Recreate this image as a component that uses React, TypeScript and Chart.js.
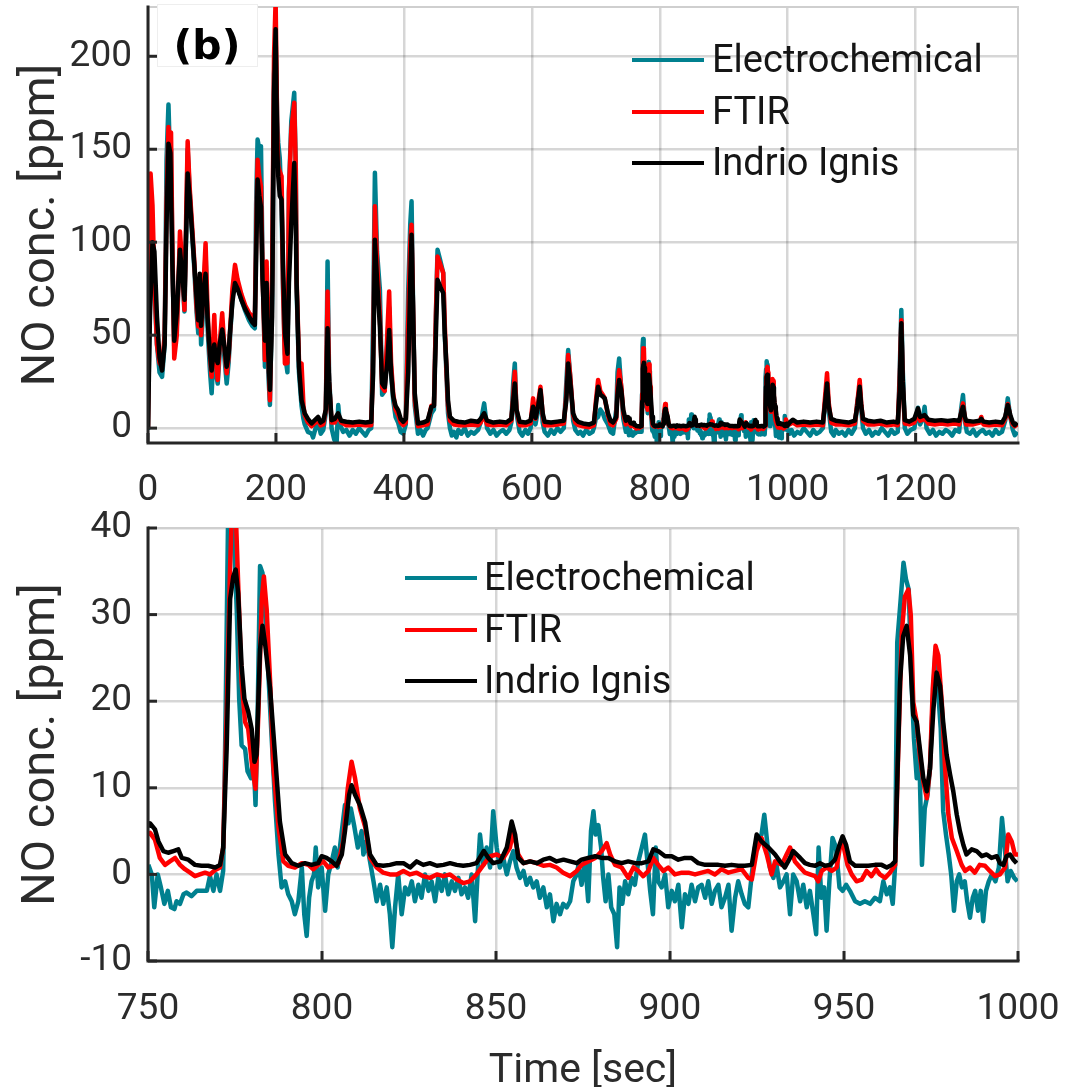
import React, { useEffect, useRef } from "react";
import { Chart, registerables } from "chart.js";

Chart.register(...registerables);

// ---------- labels / ticks ----------
const seriesLabels = ["Electrochemical", "FTIR", "Indrio Ignis"];
const seriesColors = ["#00808f", "#ff0000", "#000000"];
const yTitle = "NO conc. [ppm]";
const xTitle = "Time [sec]";
const panelTag = "(b)";

const fullXTicks = [0, 200, 400, 600, 800, 1000, 1200];
const fullYTicks = [0, 50, 100, 150, 200];
const zoomXTicks = [750, 800, 850, 900, 950, 1000];
const zoomYTicks = [-10, 0, 10, 20, 30, 40];

// ---------- data: [time s, NO ppm] ----------
// 0–750 s (full record only)
const echemEarly: [number, number][] = [[0,-1],[2,50],[4,95],[7,98],[10,75],[14,45],[18,30],[22,27.6],[26,45],[29,144.4],[32,174],[34,150],[36,150],[38,95],[41,43.8],[45,55],[50,96],[54,80],[57,62.7],[60,110],[62,150],[65,128],[68,110],[72,88],[76,62],[78.6,51],[81,75],[83,45],[86,62],[90,95],[93,55],[95,42],[97,30],[99.5,18.7],[103.6,48],[106,30],[109,24],[112,40],[116,50],[119,40],[123,24],[126,35],[128,47],[132,70],[136,80],[140,76],[146,69],[152,63],[158,58],[163,55],[167,53.7],[169,120],[171.3,155.2],[174,150],[176.6,151.6],[179,90],[182.8,33],[185.4,70],[188,30],[190.6,12.4],[194,70],[197,190],[199.5,210],[202,165],[203.6,153.4],[206,145],[208.8,120],[211,75],[214,40],[218,30],[220.3,127.4],[224,165],[228.6,180.4],[231,140],[232.3,75],[236,30],[240,12],[243,5],[245,2],[250,-2],[255.7,-2.9],[258,-5],[262,0],[266,3],[270,-3],[274,-1],[278,8],[280.7,89.6],[283,30],[287,0],[291,-6],[294.8,-8.3],[297.4,12.4],[300,2],[305,-2],[310,-1],[315,-4],[320,-1],[325,-3],[330,0],[335,-2],[340,-4],[345,-1],[349,0],[352,60],[354.7,137.3],[358,95],[362.5,74.4],[366,18],[370,20],[374,45],[377,65],[380,30],[383.3,15],[387,6],[391,3],[395,-2],[399,-3],[403,2],[406.8,74.4],[410,110],[412,122],[414,75],[417,12],[422,-3],[426,-1],[430,-4],[434,-1],[437,0],[443,8],[447,10],[450,60],[452.6,95.9],[457,90],[461.5,83.4],[464,50],[466.7,28],[469,8],[472,0],[475,-4],[478,-2],[482,-5],[485,-1],[490,-3],[495,0],[500,-4],[505,-2],[510,-3],[516,-1],[520,3],[525.5,13.3],[530,0],[535,-3],[540,-1],[545,-4],[550,-2],[555,-1],[560,-3],[565,-1],[568,3],[571,25],[573.4,34.8],[576,8],[581,-2],[585,-4],[590,-1],[594,-3],[598,0],[602,12],[605.7,2],[610,10],[613.5,20],[617,3],[620,-2],[625,-4],[630,-1],[635,-3],[640,0],[645,-2],[650,0],[654,25],[656.8,42],[660,28],[664.6,4],[668,-1],[672.4,-3],[676,-2],[680,-4],[685,-1],[690,-3],[695,-2],[697,0],[700,5],[703.6,6],[707,10],[711,8],[714,5],[719,2],[723,-2],[727,-3],[732,10],[734,30],[736.5,37.5],[740,20],[743,5],[747,-2]];

const ftirEarly: [number, number][] = [[0,0],[2,80],[4,137],[7,120],[10,80],[14,45],[18,35],[22,33],[26,50],[29,120],[32,162],[34,150],[36,159],[38,100],[41,37.5],[45,50],[50,105.8],[54,85],[57,63.6],[60,120],[62,154.3],[65,130],[68,113.9],[72,92],[76,65],[78.6,54.6],[81,78],[83,50],[86,70],[90,99.5],[93,65],[95,49],[97,38],[99.5,27.6],[103.6,60.9],[106,38],[109,25.9],[112,45],[116,61.8],[119,45],[123,29.5],[126,38],[128,50],[132,75],[136,87.8],[140,80],[146,72],[152,66],[158,62],[163,60],[167,58],[169,100],[171.3,144.4],[174,135],[176.6,130],[179,85],[182.8,36.6],[185.4,89.6],[188,40],[190.6,15],[194,80],[197,200],[199.5,230],[202,160],[203.6,140.9],[206,138],[208.8,135.5],[211,80],[214,34.8],[218,35],[220.3,126.5],[224,160],[228.6,175],[231,140],[232.3,80],[236,36.6],[238,30],[240,34.8],[243,12],[245,7],[250,3],[255.7,1],[260,2.5],[266,4],[270,1.5],[274,2],[278,10],[280.7,73.5],[283,25],[287,3],[292,3],[297,7],[302,3],[310,1.6],[320,1.5],[330,2],[340,1.5],[349,1.6],[352,40],[354.7,119.3],[358,90],[362.5,60],[366,22],[370,20],[374,50],[377,73.5],[380,35],[383.3,18.7],[387,10],[391,7],[395,3],[399,1.6],[403,3],[406.8,58],[410,100],[412,109.4],[414,70],[417,15],[422,1],[430,1.5],[437,2],[443,12],[447,12],[450,60],[452.6,92.3],[457,88],[461.5,83.4],[464,55],[466.7,30],[469,12],[472,4],[478,2],[485,1.6],[495,1.5],[505,2],[516,1.6],[520,3],[525.5,7],[530,2],[540,1.5],[550,2],[560,1.5],[568,4],[571,18],[573.4,30.3],[576,10],[581,1.6],[590,1.5],[598,2.5],[602,16],[605.7,5],[610,14],[613.5,22.2],[617,7],[620,1.6],[630,1.5],[640,2],[650,2.5],[654,18],[656.8,39.3],[660,28],[664.6,7],[668,3],[672.4,1.6],[680,1],[690,0.5],[697,1.5],[700,14],[703.6,25.9],[707,20],[711,18],[714,16],[719,7],[723,2],[727,1.5],[732,5],[734,22],[736.5,31.2],[740,22],[743,8],[747,2]];

const indrioEarly: [number, number][] = [[0,0],[3,60],[7,100],[10,95],[14,60],[18,38],[22,31],[26,45],[29,110],[32,153],[35,148],[38,90],[41,47],[45,62],[50,96],[54,80],[57,69],[60,110],[62,137],[65,125],[68,110],[72,90],[76,70],[78.6,58],[81,83],[83,55],[86,70],[90,83],[93,60],[95,49],[97,40],[99.5,31],[103.6,45],[106,38],[109,35],[112,45],[116,53],[119,45],[123,33],[126,40],[128,51],[132,68],[136,78],[140,75],[146,69],[152,64],[158,60],[163,57],[167,55.5],[169,90],[171.3,133.7],[174,125],[176.6,119],[179,80],[182.8,47],[185.4,78],[188,40],[190.6,20.5],[194,60],[197,180],[199.5,214.5],[202,150],[203.6,135.5],[206,125],[208.8,122.9],[211,90],[214,51],[218,40],[220.3,78],[224,110],[228.6,142.6],[231,110],[232.3,78],[236,33],[240,15],[245,8],[250,5],[255.7,2.5],[260,4],[266,6],[270,3],[274,4],[278,10],[280.7,53.7],[283,25],[287,4.3],[292,5],[297,8],[302,4],[310,3.4],[320,3],[330,3.5],[340,3],[349,3.4],[352,30],[354.7,101.3],[358,80],[362.5,54.6],[366,24],[370,22],[374,35],[377,52.8],[380,30],[383.3,17],[387,12],[391,9.7],[395,5],[399,3.4],[403,5],[406.8,30],[410,80],[412,104],[414,70],[417,18.7],[422,2.5],[430,3],[437,4],[443,11.5],[447,12],[450,50],[452.6,79.8],[457,76],[461.5,72.6],[464,50],[466.7,33],[469,15],[472,6.1],[478,4],[485,3.4],[495,3],[505,4],[516,3.4],[520,5],[525.5,8],[530,4],[540,3],[550,3.5],[560,3],[568,5],[571,15],[573.4,24],[576,10],[581,3.4],[590,3],[598,4],[602,11.5],[605.7,5.5],[610,12],[613.5,20.5],[617,8],[620,3.4],[630,3],[640,3.5],[650,4],[654,15],[656.8,34.8],[660,25],[664.6,8],[668,5],[672.4,3.4],[680,2.5],[690,2],[697,3],[700,12],[703.6,22.2],[707,18],[711,17],[714,16],[719,8],[723,4],[727,3],[732,6],[734,18],[736.5,25.9],[740,20],[743,9.7],[747,4]];

// 750–1000 s (shown in both panels)
const echemZoom: [number, number][] = [[750.1,1.1],[751.1,0],[751.8,-3.8],[752.8,0],[753.7,-1.5],[754.7,-3.4],[755.7,-1.9],[756.6,-3.8],[757.6,-4],[758.2,-3.1],[759.2,-3.4],[760.2,-2.3],[761.1,-2.1],[762.5,-2.5],[764,-1.9],[765.4,-1.9],[766.9,-1.9],[767.8,-0.2],[768.8,-1.9],[769.7,0],[770.7,-1.9],[771.6,0.4],[772.3,18.4],[773.1,44],[773.9,48],[774.8,37.5],[775.5,30.6],[776.2,20.3],[776.9,14.9],[777.9,14.5],[778.6,11.9],[779.6,11.1],[780.3,13.8],[780.9,8],[781.5,18.4],[782.2,35.6],[782.9,34.8],[783.6,30.6],[784.6,23],[785.5,16],[786.5,8.4],[787.5,2.3],[788.4,-1.5],[789.4,-0.8],[790.3,-2.3],[791.3,-3.1],[792.2,-4.6],[793.2,-3.1],[794.2,0.8],[794.9,-4.6],[795.6,-7.1],[796.3,-2.7],[797,-0.8],[797.7,0],[798.2,3.1],[798.9,-1.5],[799.9,0.8],[800.9,-4.2],[801.8,0],[802.8,1.5],[803.7,3.1],[804.5,0.8],[805.7,5],[806.6,8],[807.6,5.9],[808.3,7.6],[809.3,5.5],[810.3,3.1],[811.4,5],[811.9,2.3],[812.8,3.8],[813.8,1.5],[814.8,-0.8],[815.7,-3.1],[816.7,-1.2],[817.6,-3.4],[818.6,-1.5],[819.5,-4.6],[820.2,-8.4],[821,-3.8],[821.9,0],[822.9,-4.6],[823.9,-1.5],[824.8,-2.3],[825.8,-0.8],[826.7,-3.1],[827.7,-1.2],[828.6,-2.7],[829.6,0],[830.6,-1.9],[831.5,-0.8],[832.5,-3.1],[833.4,-0.4],[834.4,-1.9],[835.3,0],[836.3,-2.3],[837.3,-0.8],[838.2,-1.9],[839.2,-0.4],[840.1,-2.3],[841.1,-1.5],[842,-2.7],[843,0],[844,-5.4],[844.6,-0.8],[845.4,4.6],[846.4,1.1],[847.3,3.1],[848.3,0.8],[849.2,7.3],[850.2,3.1],[851.1,0.8],[852.1,1.9],[853.1,0],[854,1.5],[855,2.7],[855.9,0.8],[856.9,-0.4],[857.9,0.4],[858.8,-1.2],[859.8,-0.4],[860.7,-1.5],[861.7,-0.8],[862.6,-2.7],[863.6,-1.5],[864.6,-3.8],[865.5,-2.3],[866.5,-5.4],[867.4,-3.4],[868.4,-4.6],[869.3,-3.4],[870.3,-3.8],[871.3,-3.1],[872.2,-0.8],[873.2,0],[873.7,1.1],[874.6,-1.2],[875.6,1.5],[876.5,-3.1],[877.3,5],[878,7.3],[878.6,4.6],[879.4,5.7],[880.2,3.1],[880.8,-0.4],[881.5,-3.1],[882.3,0],[883.1,-3.8],[884,-4.6],[884.8,-8.4],[885.5,-1.5],[886.3,-3.4],[887.1,-0.8],[888,-2.3],[889,-0.4],[889.9,-1.2],[890.9,1.5],[891.9,3.1],[892.8,4.6],[893.6,1.1],[894.3,-1.9],[895.1,-4.6],[895.9,3.1],[896.6,-0.8],[897.6,-1.5],[898.6,0],[899.5,-3.8],[900.5,-1.9],[901.4,-3.1],[902.4,-1.2],[903.4,-6.1],[904.3,-2.3],[905.3,-3.4],[906.2,-1.2],[907.2,-3.1],[908.1,-1.5],[909.1,-1.2],[910.1,-2.7],[911,-0.8],[912,-3.4],[912.9,-1.9],[913.9,-1.2],[914.8,-3.8],[915.8,-2.7],[916.8,-1.2],[917.7,-6.5],[918.7,-2.7],[919.6,-0.8],[920.6,-2.3],[921.5,-3.4],[922.5,-3.8],[923.5,0],[924.4,3.1],[925.4,4.2],[926.3,4.6],[927.1,6.9],[927.9,3.8],[928.7,0.8],[929.7,-0.4],[930.6,1.1],[931.6,-1.5],[932.6,-0.8],[933.5,0],[934.5,-4.6],[935.4,0],[936.4,-0.8],[937.4,-3.1],[938.3,-1.2],[939.3,-3.8],[940.2,-1.9],[941.2,-4.6],[942,-6.9],[942.7,3.1],[943.5,-2.7],[944.3,-1.5],[945,-6.5],[945.8,-0.8],[946.7,4.2],[947.7,3.1],[948.7,-1.5],[949.6,-1.9],[950.6,-1.2],[951.7,-1.9],[953.2,-3.1],[954.6,-3.4],[956,-3.1],[957.5,-3.4],[958.9,-2.7],[960.3,-3.1],[961.3,-0.8],[962.3,-2.3],[963.2,-1.5],[964,-3.4],[964.7,1.1],[965.3,26.8],[966.3,31.8],[967.1,36],[967.8,34.1],[968.6,32.9],[969.4,22.2],[970.1,15.7],[970.9,11.1],[971.6,14.5],[972.4,1.1],[973.2,7.6],[974,9.2],[974.7,12.2],[975.5,19.9],[976.2,25.3],[977,21.4],[977.8,16.8],[978.5,7.3],[979.3,4.6],[980.1,2.3],[980.8,0],[981.6,-4.2],[982.4,-0.8],[983.1,0],[983.9,-1.5],[984.7,-0.8],[985.4,-3.1],[986.2,-5],[987,-2.7],[987.7,-1.9],[988.5,-4.2],[989.3,-1.9],[990,-5.4],[990.8,-1.9],[991.6,-0.8],[992.5,0],[993.5,-0.8],[994.5,0.8],[995.4,6.5],[996.2,3.1],[997,-0.8],[997.9,0.4],[998.9,-0.4],[999.8,-0.8]];

const ftirZoom: [number, number][] = [[750,4.6],[750.6,4.8],[752,4],[753.4,1.9],[754.9,1.1],[756.3,1.5],[757.8,1.9],[759.2,1.1],[760.6,0.6],[762.1,0.2],[763.5,-0.2],[764.9,0],[766.4,0.2],[767.8,0],[769.3,0.5],[770.7,0.8],[771.6,3.1],[772.6,18.4],[773.6,35.6],[774.2,43],[775.2,42],[775.9,33.7],[776.9,22.2],[777.9,17.6],[778.8,16.8],[780,12.2],[780.9,9.9],[781.7,18.4],[782.7,31.8],[783.3,34.4],[784.1,30.6],[785.1,22.2],[786,12.6],[787.5,5.4],[788.9,1.5],[790.3,1],[792.2,0.8],[794.2,1.3],[796.1,1.1],[797.5,0.6],[798.9,1.1],[800.4,1.5],[801.8,0.8],[803.3,1],[804.7,1.3],[806.1,3.8],[807.4,9.9],[808.5,13],[809.5,11.1],[810.9,7.6],[812.4,5.5],[813.8,1.9],[815.7,0.8],[817.6,0.2],[819.5,0],[821.5,0],[823.4,0.4],[825.3,0],[827.2,0.2],[829.1,-0.2],[831,-0.4],[833,0],[834.9,-0.2],[836.8,0],[838.7,-0.6],[840.6,-1],[842.5,-0.8],[844.4,0],[846.4,1.1],[848.3,2.1],[850.2,2.3],[852.1,1.9],[854,3.1],[855,5],[856.4,2.3],[857.9,1.3],[859.8,1.5],[861.7,1.3],[863.6,1],[865.5,1.1],[867.4,0.8],[869.3,0.2],[871.3,-0.2],[873.2,0.4],[874.6,1.1],[876.5,1.5],[878.5,1.9],[880.4,2.7],[881.8,3.6],[882.8,2.3],[884.2,1.1],[886.1,0.8],[888,-0.4],[889.5,0.8],[890.9,0.4],[892.3,-0.2],[893.8,0.4],[895.2,1.9],[896.6,1.1],[898.1,0.4],[899.5,0.8],[901.4,0],[903.4,0.2],[905.3,0.2],[907.2,0],[909.1,0.2],[911,0.4],[912.9,0],[914.8,0.6],[916.8,0.2],[918.7,0.4],[920.6,0.6],[922.5,-0.4],[923.5,-0.6],[924.9,2.7],[926.3,4.2],[927.8,2.3],[929.2,0],[930.2,1.5],[932.1,1.1],[933.5,2.3],[934.5,3.1],[935.9,1.5],[937.4,0.8],[938.8,0.2],[940.2,0],[941.7,-0.2],[942.6,-0.8],[943.6,0.4],[945,0.8],[946.5,0.4],[947.9,0.8],[948.8,3.1],[949.8,3.4],[951,1.1],[952.2,0],[953.6,-0.8],[955.1,-0.6],[956.5,0.4],[957.9,-0.2],[959.2,0.6],[960.3,0],[961.8,-0.4],[963.2,0.2],[964.7,1.1],[965.6,14.5],[966.6,27.9],[967.5,32.1],[968.5,32.9],[969.2,29.9],[969.9,19.9],[970.9,17.6],[971.8,13.8],[972.8,10.7],[973.8,8.8],[974.7,12.2],[975.5,21.4],[976.3,26.4],[977.1,25.3],[978.1,19.9],[979,12.6],[980,6.9],[981,4.2],[982.4,2.7],[983.8,1.1],[984.8,0.4],[986.2,0.8],[987.6,0.2],[989,1.1],[990.5,1],[991.9,0.4],[993.4,-0.2],[994.8,0],[996.3,0.8],[997.2,4.6],[998.2,3.8],[999.1,2.3],[1000,2.3]];

const indrioZoom: [number, number][] = [[750,5.5],[750.6,5.9],[752,5.2],[753,3.8],[754.4,2.7],[755.8,2.5],[757.3,2.7],[758.7,2.9],[759.7,1.9],[761.6,1.7],[763.5,1.1],[765.4,1],[767.3,1],[769.3,0.8],[770.7,1.1],[771.6,3.1],[772.6,14.5],[773.6,31.8],[774.5,34.4],[775.2,35.2],[775.9,32.5],[776.9,24.1],[777.7,20.3],[778.8,18.8],[779.8,16.8],[780.6,13],[781.2,13.8],[782.2,26],[782.9,28.7],[783.6,26.8],[785.1,21.4],[786.5,13.8],[787.9,6.1],[789.4,2.3],[791.3,1.3],[793.2,1],[795.1,1.3],[797,1.1],[798.9,1.3],[799.9,2.1],[801.3,1.9],[802.8,1.5],[804.2,1],[805.7,2.3],[806.6,5],[807.8,9.2],[808.5,10.3],[809.5,9.2],[810.9,8],[812.4,6],[813.8,2.3],[815.7,1.1],[817.6,1],[819.5,1.1],[821.5,1.3],[823.4,1.3],[825.3,0.8],[827.2,1.5],[829.1,1.1],[831,1.3],[833,1],[834.9,1.1],[836.8,1.3],[838.7,1.1],[840.6,1],[842.5,1.1],[844.4,1.3],[846.5,2.7],[847.8,1.9],[849.2,1.3],[851.2,1.5],[853.1,3.1],[854.5,6.1],[855.5,4.6],[856.4,1.9],[857.9,1.3],[859.8,1.5],[861.7,1.3],[863.6,1.7],[865.5,1.9],[867.4,1.5],[869.4,1.7],[871.3,1.5],[873.2,1.3],[874.6,1.7],[876.5,1.9],[878.5,2.1],[880.4,1.9],[882.3,1.9],[884.2,1.5],[886.1,1.3],[888,1.5],[890,1.3],[891.9,1.3],[893.8,1.5],[895.2,2.9],[896.6,2.7],[898.6,2.1],[900.5,2.1],[902.4,1.7],[904.3,1.9],[906.2,1.9],[908.1,1.3],[910.1,1.1],[912,1.1],[913.9,1.1],[915.8,1],[917.7,1.1],[919.6,1],[921.5,1],[923.5,1.1],[924.9,4.6],[926.3,3.8],[928.3,3.1],[930.2,2.3],[931.6,1.5],[933,0.8],[934.5,1.9],[935.4,2.7],[937.4,1.9],[938.8,1.3],[940.2,1.1],[941.7,1],[943.1,1.3],[944.5,1],[946,1.1],[947.4,1.7],[948.7,3.4],[949.6,4.4],[950.6,3.4],[951.7,1.5],[953.2,1],[955.1,1],[957,1],[958.9,1.1],[960.8,1.1],[962.3,0.8],[963.7,1.1],[964.7,1.5],[965.3,10.7],[966.1,22.2],[967,27.5],[968,28.7],[969,25.3],[969.9,18.4],[970.9,17.6],[971.8,14.5],[972.8,11.1],[973.8,9.6],[974.7,12.2],[975.7,19.1],[976.6,23.3],[977.6,21.8],[978.5,17.6],[979.5,13.8],[980.5,11.5],[981.4,9.6],[982.4,6.9],[983.3,5],[984.3,3.4],[985.2,2.3],[986.7,2.9],[988.1,2.7],[989.6,2.1],[991,2.3],[992.4,1.9],[993.9,2.1],[994.8,1.3],[995.8,1.1],[996.7,2.1],[997.7,2.3],[998.7,1.7],[999.6,1.3]];

// 1000–1360 s (full record only)
const echemLate: [number, number][] = [[1003,-3],[1006,-1],[1010,-4],[1015,-2],[1020,-3],[1025,0],[1030,-2],[1035,-4],[1040,-1],[1045,-3],[1050,-2],[1055,0],[1058,12],[1061.5,24],[1064,10],[1068,-2],[1072,-4],[1075,-1],[1080,-3],[1085,-2],[1090,-4],[1095,-1],[1100,-3],[1105,0],[1109,15],[1112.5,20.5],[1115,10],[1117.7,0],[1122,-3],[1127,-1],[1132,-4],[1137,-2],[1142,-3],[1147,0],[1152,-2],[1157,-4],[1162,-1],[1167,-3],[1172,-2],[1175,30],[1177.6,63.6],[1180,30],[1183,0],[1187,-3],[1192,-1],[1198,0],[1203.6,11],[1207,2],[1211,5],[1214,11.5],[1217,0],[1222,-3],[1227,-1],[1232,-4],[1237,-2],[1242,-3],[1247,-1],[1252,-2],[1257,-4],[1262,-1],[1268,-2],[1271,10],[1274,17.8],[1277,4],[1280,-2],[1285,-3],[1290,-1],[1295,-4],[1300,-2],[1305,-1],[1310,-3],[1315,-2],[1320,-4],[1325,-1],[1330,-3],[1335,-2],[1340,4],[1344,16],[1348,6],[1352,-1],[1355,-3.8],[1359,-2]];

const ftirLate: [number, number][] = [[1003,2],[1008,3],[1015,1.5],[1025,2],[1035,1.5],[1045,2],[1055,1.5],[1058,15],[1061.5,29.5],[1064,14],[1068,3],[1075,2],[1085,2],[1095,1.5],[1105,2.5],[1109,14],[1112.5,25.9],[1115,13],[1117.7,4],[1125,2],[1135,2],[1145,2.5],[1155,1.5],[1165,2],[1172,1.5],[1175,25],[1177.6,58],[1180,22],[1183,2.5],[1190,2],[1198,3],[1203.6,8],[1207,4],[1214,5],[1220,2.5],[1230,2],[1240,2.5],[1250,2],[1260,2.5],[1268,2],[1271,8],[1274,13.3],[1277,5],[1279,2],[1290,2],[1300,3],[1302.6,6],[1306,2],[1315,1.5],[1325,2],[1335,1.5],[1340,5],[1344,13],[1348,6],[1352,2],[1355,1],[1359,2]];

const indrioLate: [number, number][] = [[1003,3],[1008,4.5],[1015,3],[1025,3.5],[1035,3],[1045,3.5],[1055,3],[1058,12],[1061.5,24],[1064,12],[1068,5],[1075,4],[1085,3.5],[1095,3],[1105,4],[1109,12],[1112.5,22.2],[1115,12],[1117.7,5],[1125,4],[1135,3.5],[1145,4],[1155,3],[1165,3.5],[1172,3],[1175,20],[1177.6,56.4],[1180,25],[1183,4.3],[1190,3.5],[1198,5],[1203.6,10.6],[1207,6],[1214,7],[1220,4.5],[1230,4],[1240,4.3],[1250,3.8],[1260,4.3],[1268,4],[1271,8],[1274,11.5],[1277,6],[1279,4],[1290,3.5],[1300,4],[1302.6,5],[1306,3.5],[1315,3],[1325,3.5],[1335,3],[1340,6],[1344,12.4],[1348,7],[1352,3],[1355,1.6],[1359,3]];

// ---------- styling ----------
const FONT = "Roboto, 'DejaVu Sans', sans-serif";
const TEXT = "#2b2b2b";
const AXIS = "#262626";
const GRID = "rgba(0,0,0,0.16)";
const FRAME = "#cfcfcf";
const W = 1082;

type Decor = {
  xTicks: number[];
  yTicks: number[];
  xLabelBaseline: number;
  legend: { x1: number; x2: number; tx: number; rows: number[] };
  tag?: boolean;
};

function makeDecor(d: Decor) {
  return {
    id: "decor",
    beforeDatasetsDraw(chart: any) {
      const { ctx, chartArea: a } = chart;
      ctx.save();
      ctx.strokeStyle = FRAME;
      ctx.lineWidth = 2;
      ctx.beginPath();
      ctx.moveTo(a.left, a.top);
      ctx.lineTo(a.right, a.top);
      ctx.lineTo(a.right, a.bottom);
      ctx.stroke();
      ctx.restore();
    },
    afterDatasetsDraw(chart: any) {
      const { ctx, chartArea: a, scales } = chart;
      ctx.save();
      ctx.strokeStyle = AXIS;
      ctx.lineWidth = 3;
      ctx.lineCap = "square";
      ctx.beginPath();
      ctx.moveTo(a.left, a.top);
      ctx.lineTo(a.left, a.bottom);
      ctx.lineTo(a.right, a.bottom);
      ctx.stroke();
      ctx.lineCap = "butt";
      // inward tick marks + x tick labels
      ctx.font = `37px ${FONT}`;
      ctx.fillStyle = TEXT;
      ctx.textAlign = "center";
      ctx.textBaseline = "alphabetic";
      for (const v of d.xTicks) {
        const x = scales.x.getPixelForValue(v);
        ctx.beginPath();
        ctx.moveTo(x, a.bottom);
        ctx.lineTo(x, a.bottom - 10);
        ctx.stroke();
        ctx.fillText(String(v), x, d.xLabelBaseline);
      }
      for (const v of d.yTicks) {
        const y = scales.y.getPixelForValue(v);
        ctx.beginPath();
        ctx.moveTo(a.left, y);
        ctx.lineTo(a.left + 9, y);
        ctx.stroke();
      }
      // legend
      const ds = chart.data.datasets;
      ctx.font = `38px ${FONT}`;
      ctx.textBaseline = "middle";
      ctx.textAlign = "left";
      for (let i = 0; i < ds.length; i++) {
        const y = d.legend.rows[i];
        ctx.strokeStyle = ds[i].borderColor;
        ctx.lineWidth = 4;
        ctx.beginPath();
        ctx.moveTo(d.legend.x1, y);
        ctx.lineTo(d.legend.x2, y);
        ctx.stroke();
        ctx.fillStyle = "#151515";
        ctx.fillText(ds[i].label, d.legend.tx, y + 2);
      }
      if (d.tag) {
        ctx.fillStyle = "#ffffff";
        ctx.fillRect(157, 4, 100, 62);
        ctx.strokeStyle = "#eeeeee";
        ctx.lineWidth = 1;
        ctx.strokeRect(157.5, 4.5, 100, 62);
        ctx.fillStyle = "#000000";
        ctx.font = `bold 41px 'DejaVu Sans', ${FONT}`;
        ctx.textAlign = "center";
        ctx.fillText(panelTag, 207, 48);
      }
      ctx.restore();
    },
  };
}

const toPts = (arr: [number, number][]) => arr.map(([x, y]) => ({ x, y }));

function buildDatasets(parts: [number, number][][], width: number) {
  return parts.map((p, i) => ({
    label: seriesLabels[i],
    data: toPts(p),
    borderColor: seriesColors[i],
    backgroundColor: seriesColors[i],
    borderWidth: width,
    pointRadius: 0,
    tension: 0,
    borderJoinStyle: "round" as const,
    order: 3 - i,
  }));
}

type PanelCfg = {
  height: number;
  padTop: number;
  xAxisH: number;
  xLabelBaseline: number;
  xMin: number;
  xMax: number;
  yMin: number;
  yMax: number;
  xTicks: number[];
  yTicks: number[];
  showXTitle: boolean;
  legend: Decor["legend"];
  tag: boolean;
  lineW: number;
  series: [number, number][][];
};

const plainLabel = (v: any) => String(v);

function makeConfig(c: PanelCfg): any {
  return {
    type: "line",
    data: { datasets: buildDatasets(c.series, c.lineW) },
    options: {
      animation: false,
      responsive: false,
      maintainAspectRatio: false,
      devicePixelRatio: 1,
      layout: { padding: { top: c.padTop, right: W - 1018, left: 0, bottom: 0 } },
      plugins: { legend: { display: false }, tooltip: { enabled: false } },
      scales: {
        x: {
          type: "linear",
          min: c.xMin,
          max: c.xMax,
          afterBuildTicks: (s: any) => {
            s.ticks = c.xTicks.map((v) => ({ value: v }));
          },
          afterFit: (s: any) => {
            s.height = c.xAxisH;
            s.paddingLeft = 0;
            s.paddingRight = 0;
          },
          grid: { color: GRID, lineWidth: 2.5, drawTicks: false },
          border: { display: false },
          ticks: { display: false },
          title: {
            display: c.showXTitle,
            text: xTitle,
            color: TEXT,
            font: { family: FONT, size: 41, lineHeight: 0.75 },
            padding: { top: 0, bottom: 0 },
          },
        },
        y: {
          type: "linear",
          min: c.yMin,
          max: c.yMax,
          afterBuildTicks: (s: any) => {
            s.ticks = c.yTicks.map((v) => ({ value: v }));
          },
          afterFit: (s: any) => {
            s.width = 148;
            s.paddingTop = 0;
            s.paddingBottom = 0;
          },
          grid: { color: GRID, lineWidth: 2.5, drawTicks: false },
          border: { display: false },
          ticks: { padding: 16, color: TEXT, font: { family: FONT, size: 37 }, callback: plainLabel },
          title: {
            display: true,
            text: yTitle,
            color: TEXT,
            font: { family: FONT, size: 47 },
            padding: { top: 14, bottom: 0 },
          },
        },
      },
    },
    plugins: [
      makeDecor({
        xTicks: c.xTicks,
        yTicks: c.yTicks,
        xLabelBaseline: c.xLabelBaseline,
        legend: c.legend,
        tag: c.tag,
      }),
    ],
  };
}

function Panel({ cfg, top }: { cfg: PanelCfg; top: number }) {
  const ref = useRef<HTMLCanvasElement | null>(null);
  useEffect(() => {
    if (!ref.current) return;
    const chart = new Chart(ref.current, makeConfig(cfg));
    return () => chart.destroy();
  }, [cfg]);
  return (
    <canvas
      ref={ref}
      width={W}
      height={cfg.height}
      style={{ position: "absolute", left: 0, top, width: W, height: cfg.height, display: "block" }}
    />
  );
}

const fullPanel: PanelCfg = {
  height: 515,
  padTop: 7,
  xAxisH: 72,
  xLabelBaseline: 500,
  xMin: 0,
  xMax: 1360,
  yMin: -8,
  yMax: 226.5,
  xTicks: fullXTicks,
  yTicks: fullYTicks,
  showXTitle: false,
  legend: { x1: 632, x2: 704, tx: 712, rows: [60, 112, 163] },
  tag: true,
  lineW: 4.5,
  series: [
    [...echemEarly, ...echemZoom, ...echemLate],
    [...ftirEarly, ...ftirZoom, ...ftirLate],
    [...indrioEarly, ...indrioZoom, ...indrioLate],
  ],
};

const zoomPanel: PanelCfg = {
  height: 587,
  padTop: 28,
  xAxisH: 126,
  xLabelBaseline: 519,
  xMin: 750,
  xMax: 1000,
  yMin: -10,
  yMax: 40,
  xTicks: zoomXTicks,
  yTicks: zoomYTicks,
  showXTitle: true,
  legend: { x1: 405, x2: 477, tx: 484, rows: [78, 130, 181] },
  tag: false,
  lineW: 4.5,
  series: [echemZoom, ftirZoom, indrioZoom],
};

export default function App() {
  return (
    <div style={{ position: "absolute", left: 0, top: 0, width: W, height: 1087, background: "#ffffff" }}>
      <Panel cfg={zoomPanel} top={500} />
      <Panel cfg={fullPanel} top={0} />
    </div>
  );
}
